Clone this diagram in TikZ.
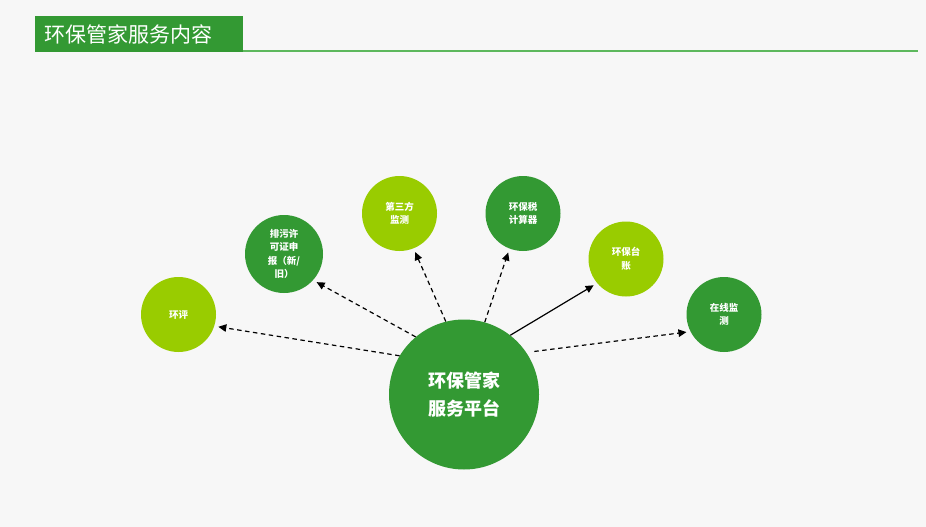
\documentclass[tikz,border=0pt]{standalone}
\usepackage{fontspec}
\setmainfont{Noto Sans CJK SC}
\usetikzlibrary{arrows.meta}
\definecolor{bg}{HTML}{F7F7F7}
\definecolor{dkgreen}{HTML}{339933}
\definecolor{ltgreen}{HTML}{99CC00}
\definecolor{rulegreen}{HTML}{5DB85D}
\tikzset{
    hub/.style = {circle, fill=dkgreen, minimum size=150pt, inner sep=0pt, text=white,
                  font=\fontsize{18}{28}\selectfont\bfseries, align=center},
    dkball/.style = {circle, fill=dkgreen, minimum size=75pt, inner sep=0pt, text=white,
                     font=\fontsize{9.5}{13.5}\selectfont\bfseries, align=center},
    ltball/.style = {dkball, fill=ltgreen},
    link/.style = {-{Triangle[length=8pt,width=7.5pt]}, line width=1.2pt, shorten >=4pt},
    dashlink/.style = {link, dash pattern=on 4.5pt off 3.5pt},
}

\begin{document}
\begin{tikzpicture}[x=1pt, y=-1pt]
    \fill[bg] (0,0) rectangle (926,527);
    \useasboundingbox (0,0) rectangle (926,527);
    % title bar
    \node[fill=dkgreen, anchor=north west, text=white, text width=190pt, inner xsep=9pt,
          minimum height=36pt, align=left, font=\fontsize{21}{24}\selectfont] (title) at (35,16) {环保管家服务内容};
    \coordinate (ruleend) at (918,51);
    \draw[rulegreen, line width=2pt] (title.south east |- ruleend) -- (ruleend);
    % circles
    \node[hub] (hub) at (464,394.5) {环保管家\\服务平台};
    \node[ltball] (hp) at (178.5,314.5) {环评};
    \node[dkball, minimum size=78pt] (pw) at (284,254) {排污许\\可证申\\报（新/\\旧）};
    \node[ltball] (dsf) at (399.5,213.5) {第三方\\监测};
    \node[dkball] (hbs) at (523,213.5) {环保税\\计算器};
    \node[ltball] (tz) at (626,259) {环保台\\账};
    \node[dkball] (zx) at (724,314.5) {在线监\\测};
    % arrows
    \draw[dashlink] (hub.149) -- (hp.-18);
    \draw[dashlink] (hub.130) -- (pw.-42);
    \draw[dashlink] (hub.104) -- (dsf.-68);
    \draw[dashlink] (hub.74) -- (hbs.-111);
    \draw[link] (hub.52) -- (tz.-140);
    \draw[dashlink, shorten <=8pt] (hub.34) -- (zx.-153);
\end{tikzpicture}
\end{document}
